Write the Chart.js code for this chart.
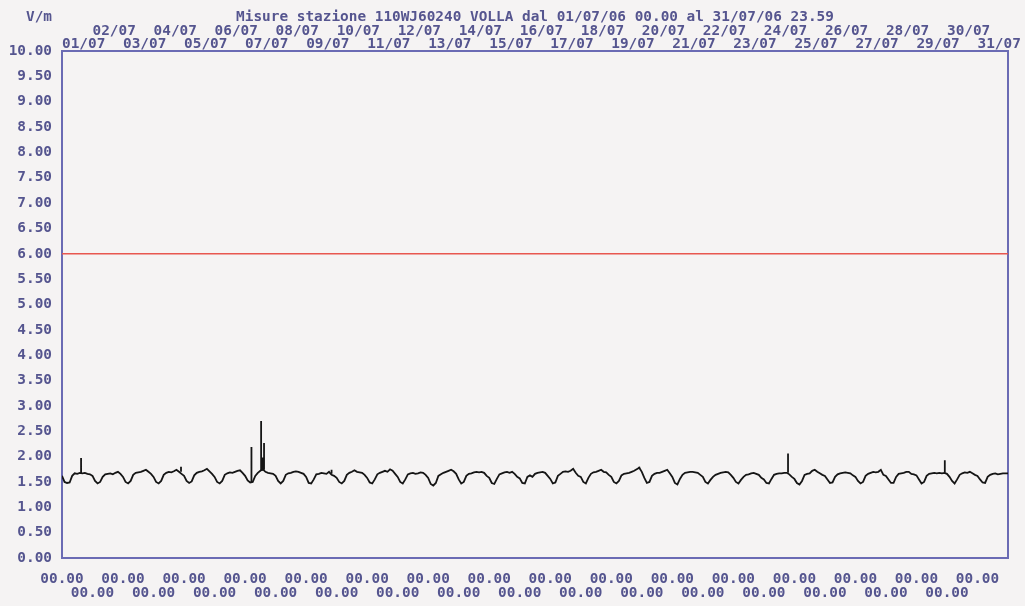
<!DOCTYPE html>
<html lang="it">
<head>
<meta charset="utf-8">
<title>Misure stazione 110WJ60240 VOLLA</title>
<script src="https://cdn.jsdelivr.net/npm/chart.js@4.4.1/dist/chart.umd.min.js"></script>
<style>
    html, body { margin:0; padding:0; background:#f5f3f3; }
    #wrap { width:1025px; height:606px; position:relative; }
</style>
</head>
<body>
<div id="wrap"><canvas id="grafico"></canvas></div>
<script>
/* misure_volla.js — campo elettrico V/m, luglio 2006 */

// ── Dati ──────────────────────────────────────────────────────────────────────
const TITOLO = 'Misure stazione 110WJ60240 VOLLA dal 01/07/06 00.00 al 31/07/06 23.59';
const UNITA  = 'V/m';
const giorni = ['01/07','02/07','03/07','04/07','05/07','06/07','07/07','08/07','09/07','10/07',
                '11/07','12/07','13/07','14/07','15/07','16/07','17/07','18/07','19/07','20/07',
                '21/07','22/07','23/07','24/07','25/07','26/07','27/07','28/07','29/07','30/07','31/07'];
const ORA_TICK = '00.00';
const ORE_TOT  = 744;   // 31 giorni
const PASSO    = 2;     // una lettura ogni 2 ore
const LIMITE   = 6;     // soglia V/m

// valori ogni 2 ore (00,02,...,22) per giorno
const valori = [
    1.62,1.50,1.48,1.49,1.62,1.67,1.66,1.68,1.67,1.68,1.66,1.65,
    1.62,1.52,1.47,1.50,1.60,1.65,1.66,1.67,1.65,1.68,1.70,1.66,
    1.60,1.50,1.47,1.52,1.64,1.68,1.69,1.70,1.72,1.74,1.70,1.66,
    1.60,1.50,1.47,1.52,1.64,1.68,1.70,1.69,1.71,1.74,1.70,1.66,
    1.62,1.52,1.48,1.51,1.63,1.68,1.70,1.71,1.73,1.76,1.71,1.66,
    1.60,1.50,1.47,1.52,1.64,1.67,1.69,1.68,1.70,1.72,1.73,1.68,
    1.62,1.53,1.49,1.50,1.62,1.68,1.72,1.75,1.70,1.68,1.67,1.66,
    1.62,1.52,1.47,1.52,1.64,1.67,1.68,1.70,1.71,1.70,1.68,1.66,
    1.60,1.48,1.47,1.55,1.65,1.66,1.68,1.67,1.66,1.70,1.64,1.62,
    1.58,1.50,1.47,1.52,1.64,1.68,1.70,1.73,1.70,1.69,1.68,1.64,
    1.58,1.49,1.47,1.55,1.65,1.68,1.70,1.72,1.70,1.75,1.72,1.66,
    1.60,1.50,1.47,1.55,1.65,1.67,1.68,1.66,1.67,1.69,1.68,1.64,
    1.58,1.46,1.43,1.48,1.62,1.65,1.68,1.70,1.72,1.74,1.71,1.66,
    1.55,1.47,1.50,1.62,1.66,1.67,1.69,1.70,1.69,1.70,1.68,1.62,
    1.58,1.48,1.46,1.56,1.65,1.67,1.69,1.70,1.68,1.70,1.66,1.60,
    1.57,1.48,1.47,1.60,1.63,1.60,1.66,1.68,1.69,1.70,1.68,1.62,
    1.56,1.47,1.49,1.62,1.66,1.70,1.71,1.70,1.72,1.76,1.68,1.62,
    1.60,1.50,1.47,1.58,1.66,1.69,1.70,1.72,1.74,1.70,1.69,1.64,
    1.60,1.50,1.47,1.52,1.63,1.66,1.67,1.68,1.70,1.72,1.75,1.78,
    1.70,1.58,1.48,1.50,1.62,1.66,1.68,1.68,1.70,1.72,1.74,1.67,
    1.60,1.48,1.45,1.56,1.64,1.68,1.69,1.70,1.70,1.69,1.68,1.64,
    1.60,1.50,1.47,1.54,1.60,1.64,1.66,1.68,1.69,1.70,1.69,1.64,
    1.58,1.50,1.47,1.54,1.60,1.64,1.65,1.67,1.68,1.66,1.64,1.58,
    1.55,1.48,1.47,1.56,1.64,1.66,1.67,1.67,1.68,1.68,1.65,1.60,
    1.56,1.48,1.45,1.52,1.64,1.66,1.67,1.72,1.74,1.70,1.67,1.64,
    1.62,1.55,1.48,1.49,1.60,1.65,1.67,1.68,1.69,1.68,1.67,1.63,
    1.60,1.52,1.47,1.50,1.62,1.66,1.68,1.70,1.69,1.70,1.74,1.64,
    1.62,1.55,1.48,1.48,1.60,1.66,1.67,1.68,1.70,1.70,1.66,1.65,
    1.63,1.55,1.47,1.50,1.62,1.66,1.67,1.68,1.67,1.68,1.67,1.68,
    1.66,1.60,1.52,1.47,1.55,1.64,1.67,1.69,1.68,1.70,1.67,1.64,
    1.62,1.55,1.49,1.48,1.60,1.64,1.66,1.67,1.65,1.66,1.67,1.67,
    1.67
];

// picchi brevi: ora dall'inizio del mese, valore di partenza, valore massimo
const picchiOra  = [15,   93.6, 149,  156.6, 157.5, 158.9, 212,  454,  571,  694.3];
const picchiBase = [1.67, 1.70, 1.50, 1.72,  1.72,  1.74,  1.66, 1.76, 1.68, 1.68];
const picchiMax  = [1.97, 1.80, 2.19, 2.70,  1.98,  2.27,  1.74, 1.80, 2.06, 1.93];

// ── Stile ─────────────────────────────────────────────────────────────────────
const testo = '#55558f';
const asse  = '#6b6bb4';
const rosso = '#e8574f';
const FONT  = '"DejaVu Sans Mono", "Liberation Mono", monospace';
const FSIZE = 14.4;

Chart.defaults.font.family = FONT;
Chart.defaults.font.size   = FSIZE;
Chart.defaults.font.weight = 'bold';
Chart.defaults.color       = testo;

const serie  = valori.map((v, i) => ({ x: i * PASSO, y: v }));
const picchi = [];
picchiOra.forEach((h, i) => {
    picchi.push({ x: h, y: picchiBase[i] }, { x: h, y: picchiMax[i] }, { x: h, y: null });
});

// ── Titolo e unità ────────────────────────────────────────────────────────────
const titoloPlugin = { id:'titolo', afterDraw(chart) {
    const {ctx, chartArea} = chart;
    ctx.save();
    ctx.font = 'bold ' + FSIZE + 'px ' + FONT;
    ctx.fillStyle = testo;
    ctx.textBaseline = 'middle';
    ctx.textAlign = 'center';
    ctx.fillText(TITOLO, (chartArea.left + chartArea.right) / 2, 17);
    ctx.fillText(UNITA, 39, 17);
    ctx.restore();
}};

// ── Grafico ───────────────────────────────────────────────────────────────────
new Chart(document.getElementById('grafico'), {
    type: 'line',
    data: {
        datasets: [
            { data: serie,  borderColor:'#151515', borderWidth:1.8, pointRadius:0, tension:0, xAxisID:'x', yAxisID:'y' },
            { data: picchi, borderColor:'#151515', borderWidth:1.8, pointRadius:0, spanGaps:false, xAxisID:'x', yAxisID:'y' },
            { data: [{x:0, y:LIMITE}, {x:ORE_TOT, y:LIMITE}], borderColor:rosso, borderWidth:1.5, pointRadius:0, xAxisID:'x', yAxisID:'y' }
        ]
    },
    options: {
        responsive:true, maintainAspectRatio:false, animation:false,
        layout:{ padding:0 },
        plugins:{ legend:{display:false}, tooltip:{enabled:false} },
        scales:{
            x: {
                type:'linear', position:'bottom', min:0, max:ORE_TOT,
                grid:{display:false, drawTicks:false}, border:{color:asse, width:2},
                ticks:{
                    stepSize:24, autoSkip:false, maxRotation:0, padding:14,
                    font:{size:FSIZE, lineHeight:1},
                    callback: v => {
                        if (v >= ORE_TOT) return null;
                        return (v / 24) % 2 === 0 ? [ORA_TICK, ''] : ['', ORA_TICK];
                    }
                },
                afterFit: s => { s.height = 48; }
            },
            x2: {
                type:'linear', position:'top', min:0, max:ORE_TOT,
                grid:{display:false, drawTicks:false}, border:{color:asse, width:2},
                ticks:{
                    stepSize:24, autoSkip:false, maxRotation:0, padding:0, align:'start',
                    font:{size:FSIZE, lineHeight:0.92},
                    callback: v => {
                        const g = Math.round(v / 24);
                        if (g >= giorni.length) return null;
                        return g % 2 === 0 ? ['', giorni[g]] : [giorni[g], ''];
                    }
                },
                afterFit: s => { s.height = 51; }
            },
            y: {
                min:0, max:10,
                grid:{display:false, drawTicks:false}, border:{color:asse, width:2},
                ticks:{ stepSize:0.5, padding:10, callback: v => v.toFixed(2) },
                afterFit: s => { s.width = 62; }
            },
            y2: {
                position:'right', min:0, max:10,
                grid:{display:false, drawTicks:false}, border:{color:asse, width:2},
                ticks:{ display:false },
                afterFit: s => { s.width = 17; }
            }
        }
    },
    plugins:[titoloPlugin]
});
</script>
</body>
</html>
